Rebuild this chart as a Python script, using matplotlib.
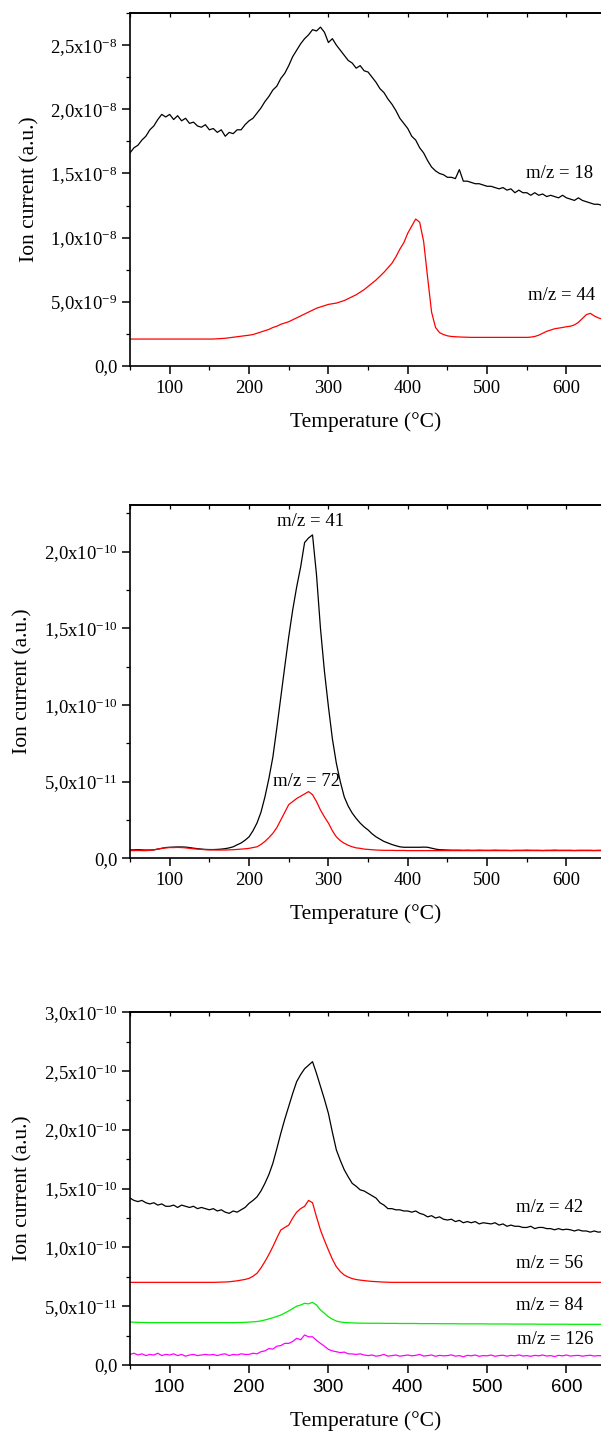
import numpy as np
import matplotlib
matplotlib.use("Agg")
import matplotlib.pyplot as plt
from matplotlib.ticker import FuncFormatter, MultipleLocator, AutoMinorLocator, NullFormatter

plt.rcParams['font.family'] = ['Liberation Serif', 'DejaVu Serif']
plt.rcParams['mathtext.fontset'] = 'custom'
plt.rcParams['mathtext.rm'] = 'Liberation Serif'
plt.rcParams['mathtext.it'] = 'Liberation Serif'

# Temperature grid (°C), 5 °C steps, 50..645
temperature = np.arange(50, 646, 5)

# ---- Panel 1 (units of 1e-8) ----
scale1 = 1e-8
mz18 = [
    1.66, 1.70, 1.72, 1.76, 1.79, 1.84, 1.87, 1.92, 1.96, 1.94,
    1.96, 1.92, 1.95, 1.91, 1.93, 1.89, 1.90, 1.87, 1.86, 1.88,
    1.84, 1.85, 1.82, 1.84, 1.79, 1.82, 1.81, 1.84, 1.84, 1.88,
    1.91, 1.93, 1.97, 2.01, 2.06, 2.10, 2.15, 2.18, 2.24, 2.28,
    2.34, 2.41, 2.46, 2.51, 2.55, 2.58, 2.62, 2.61, 2.64, 2.60,
    2.52, 2.55, 2.50, 2.46, 2.42, 2.38, 2.36, 2.32, 2.34, 2.30,
    2.29, 2.25, 2.21, 2.16, 2.13, 2.08, 2.04, 1.99, 1.93, 1.89,
    1.85, 1.79, 1.76, 1.70, 1.66, 1.60, 1.55, 1.52, 1.50, 1.49,
    1.47, 1.47, 1.46, 1.53, 1.44, 1.44, 1.43, 1.42, 1.42, 1.41,
    1.40, 1.40, 1.39, 1.38, 1.39, 1.37, 1.38, 1.35, 1.37, 1.35,
    1.35, 1.33, 1.35, 1.33, 1.34, 1.32, 1.33, 1.32, 1.31, 1.33,
    1.31, 1.30, 1.29, 1.31, 1.29, 1.28, 1.27, 1.26, 1.26, 1.25,
]
mz44 = [
    0.21, 0.21, 0.21, 0.21, 0.21, 0.21, 0.21, 0.21, 0.21, 0.21,
    0.21, 0.21, 0.21, 0.21, 0.21, 0.21, 0.21, 0.21, 0.21, 0.21,
    0.21, 0.21, 0.212, 0.214, 0.216, 0.22, 0.224, 0.228, 0.232, 0.236,
    0.24, 0.245, 0.255, 0.265, 0.275, 0.285, 0.30, 0.31, 0.325, 0.335,
    0.345, 0.36, 0.375, 0.39, 0.405, 0.42, 0.435, 0.45, 0.46, 0.47,
    0.48, 0.485, 0.49, 0.50, 0.51, 0.525, 0.54, 0.555, 0.575, 0.595,
    0.62, 0.645, 0.67, 0.70, 0.73, 0.765, 0.80, 0.85, 0.91, 0.96,
    1.035, 1.09, 1.145, 1.12, 0.97, 0.69, 0.42, 0.30, 0.26, 0.245,
    0.235, 0.23, 0.228, 0.226, 0.225, 0.224, 0.223, 0.223, 0.223, 0.223,
    0.223, 0.223, 0.223, 0.223, 0.223, 0.223, 0.223, 0.223, 0.223, 0.223,
    0.223, 0.225, 0.23, 0.24, 0.255, 0.27, 0.28, 0.29, 0.295, 0.30,
    0.306, 0.31, 0.32, 0.34, 0.37, 0.40, 0.41, 0.39, 0.375, 0.366,
]

# ---- Panel 2 (units of 1e-10) ----
scale2 = 1e-10
mz41 = [
    0.055, 0.055, 0.056, 0.055, 0.054, 0.054, 0.055, 0.060, 0.065, 0.070,
    0.072, 0.073, 0.074, 0.074, 0.073, 0.070, 0.066, 0.063, 0.060, 0.058,
    0.057, 0.057, 0.058, 0.060, 0.063, 0.068, 0.075, 0.088, 0.100, 0.118,
    0.14, 0.18, 0.23, 0.30, 0.40, 0.52, 0.66, 0.85, 1.05, 1.25,
    1.445, 1.62, 1.77, 1.90, 2.06, 2.09, 2.11, 1.85, 1.50, 1.22,
    0.99, 0.78, 0.62, 0.50, 0.40, 0.34, 0.295, 0.26, 0.23, 0.205,
    0.185, 0.16, 0.14, 0.125, 0.11, 0.10, 0.09, 0.082, 0.075, 0.072,
    0.072, 0.072, 0.072, 0.072, 0.073, 0.072, 0.066, 0.060, 0.056, 0.055,
    0.054, 0.053, 0.053, 0.053, 0.052, 0.053, 0.052, 0.052, 0.053, 0.052,
    0.052, 0.052, 0.053, 0.052, 0.052, 0.052, 0.051, 0.052, 0.052, 0.052,
    0.053, 0.052, 0.052, 0.052, 0.051, 0.052, 0.052, 0.053, 0.052, 0.052,
    0.052, 0.052, 0.051, 0.052, 0.052, 0.052, 0.052, 0.051, 0.052, 0.052,
]
mz72 = [
    0.050, 0.050, 0.051, 0.050, 0.050, 0.052, 0.055, 0.060, 0.065, 0.068,
    0.070, 0.070, 0.071, 0.070, 0.068, 0.065, 0.062, 0.060, 0.058, 0.056,
    0.055, 0.055, 0.054, 0.054, 0.054, 0.055, 0.056, 0.058, 0.060, 0.062,
    0.065, 0.070, 0.075, 0.090, 0.110, 0.135, 0.163, 0.200, 0.250, 0.300,
    0.35, 0.37, 0.39, 0.405, 0.42, 0.435, 0.415, 0.37, 0.315, 0.27,
    0.23, 0.18, 0.14, 0.115, 0.098, 0.085, 0.075, 0.068, 0.065, 0.060,
    0.058, 0.056, 0.054, 0.053, 0.052, 0.052, 0.052, 0.051, 0.051, 0.051,
    0.050, 0.050, 0.050, 0.050, 0.050, 0.050, 0.050, 0.050, 0.050, 0.050,
    0.050, 0.050, 0.050, 0.050, 0.050, 0.050, 0.050, 0.050, 0.050, 0.050,
    0.050, 0.050, 0.050, 0.050, 0.050, 0.050, 0.050, 0.050, 0.050, 0.050,
    0.050, 0.050, 0.050, 0.050, 0.050, 0.050, 0.050, 0.050, 0.050, 0.050,
    0.050, 0.050, 0.050, 0.050, 0.050, 0.050, 0.050, 0.050, 0.050, 0.050,
]

# ---- Panel 3 (units of 1e-10) ----
scale3 = 1e-10
mz42 = [
    1.42, 1.40, 1.39, 1.40, 1.38, 1.37, 1.38, 1.36, 1.37, 1.35,
    1.35, 1.36, 1.34, 1.36, 1.35, 1.34, 1.35, 1.33, 1.34, 1.33,
    1.32, 1.33, 1.31, 1.32, 1.30, 1.29, 1.31, 1.30, 1.32, 1.34,
    1.375, 1.40, 1.43, 1.48, 1.545, 1.62, 1.715, 1.84, 1.97, 2.09,
    2.20, 2.31, 2.41, 2.47, 2.52, 2.55, 2.58, 2.48, 2.37, 2.26,
    2.14, 1.98, 1.83, 1.74, 1.66, 1.60, 1.545, 1.52, 1.49, 1.48,
    1.46, 1.44, 1.42, 1.38, 1.36, 1.33, 1.33, 1.32, 1.32, 1.31,
    1.31, 1.30, 1.31, 1.29, 1.28, 1.26, 1.27, 1.25, 1.26, 1.24,
    1.233, 1.24, 1.22, 1.23, 1.21, 1.22, 1.21, 1.22, 1.20, 1.21,
    1.205, 1.20, 1.21, 1.19, 1.20, 1.18, 1.19, 1.18, 1.18, 1.17,
    1.17, 1.18, 1.16, 1.17, 1.17, 1.16, 1.16, 1.15, 1.16, 1.15,
    1.155, 1.15, 1.14, 1.15, 1.14, 1.14, 1.13, 1.14, 1.13, 1.134,
]
mz56 = [
    0.703, 0.703, 0.703, 0.703, 0.703, 0.703, 0.703, 0.703, 0.703, 0.703,
    0.703, 0.703, 0.703, 0.703, 0.703, 0.703, 0.703, 0.703, 0.703, 0.703,
    0.703, 0.703, 0.704, 0.705, 0.706, 0.708, 0.712, 0.716, 0.722, 0.728,
    0.737, 0.755, 0.78, 0.825, 0.88, 0.94, 1.006, 1.08, 1.148, 1.17,
    1.19, 1.25, 1.30, 1.33, 1.35, 1.40, 1.38, 1.26, 1.148, 1.06,
    0.978, 0.90, 0.836, 0.795, 0.765, 0.748, 0.735, 0.727, 0.722, 0.718,
    0.714, 0.711, 0.709, 0.707, 0.705, 0.704, 0.703, 0.703, 0.703, 0.703,
    0.703, 0.703, 0.703, 0.703, 0.703, 0.703, 0.703, 0.703, 0.703, 0.703,
    0.703, 0.703, 0.703, 0.703, 0.703, 0.703, 0.703, 0.703, 0.703, 0.703,
    0.703, 0.703, 0.703, 0.703, 0.703, 0.703, 0.703, 0.703, 0.703, 0.703,
    0.703, 0.703, 0.703, 0.703, 0.703, 0.703, 0.703, 0.703, 0.703, 0.703,
    0.703, 0.703, 0.703, 0.703, 0.703, 0.703, 0.703, 0.703, 0.703, 0.703,
]
mz84 = [
    0.365, 0.364, 0.363, 0.362, 0.361, 0.360, 0.360, 0.360, 0.360, 0.360,
    0.360, 0.360, 0.360, 0.360, 0.360, 0.360, 0.360, 0.360, 0.360, 0.360,
    0.360, 0.360, 0.360, 0.360, 0.360, 0.360, 0.360, 0.361, 0.362, 0.363,
    0.365, 0.367, 0.370, 0.375, 0.383, 0.392, 0.402, 0.413, 0.425, 0.442,
    0.46, 0.48, 0.50, 0.51, 0.525, 0.52, 0.533, 0.51, 0.468, 0.44,
    0.41, 0.39, 0.374, 0.366, 0.362, 0.360, 0.358, 0.357, 0.356, 0.356,
    0.355, 0.355, 0.355, 0.355, 0.354, 0.354, 0.354, 0.354, 0.353, 0.353,
    0.353, 0.353, 0.353, 0.352, 0.352, 0.352, 0.352, 0.352, 0.351, 0.351,
    0.351, 0.351, 0.351, 0.350, 0.350, 0.350, 0.350, 0.350, 0.350, 0.350,
    0.349, 0.349, 0.349, 0.349, 0.349, 0.349, 0.348, 0.348, 0.348, 0.348,
    0.348, 0.348, 0.348, 0.347, 0.347, 0.347, 0.347, 0.347, 0.347, 0.347,
    0.347, 0.346, 0.346, 0.346, 0.346, 0.346, 0.346, 0.346, 0.346, 0.346,
]
mz126 = [
    0.090, 0.100, 0.085, 0.095, 0.080, 0.090, 0.085, 0.100, 0.080, 0.090,
    0.085, 0.095, 0.080, 0.090, 0.075, 0.085, 0.090, 0.080, 0.085, 0.090,
    0.085, 0.090, 0.080, 0.090, 0.095, 0.080, 0.090, 0.085, 0.095, 0.090,
    0.090, 0.100, 0.095, 0.113, 0.120, 0.140, 0.135, 0.160, 0.165, 0.184,
    0.184, 0.200, 0.227, 0.215, 0.255, 0.240, 0.240, 0.210, 0.184, 0.160,
    0.133, 0.120, 0.113, 0.105, 0.110, 0.095, 0.094, 0.090, 0.095, 0.085,
    0.080, 0.085, 0.075, 0.080, 0.090, 0.075, 0.080, 0.085, 0.075, 0.080,
    0.085, 0.078, 0.082, 0.090, 0.076, 0.080, 0.085, 0.074, 0.082, 0.078,
    0.080, 0.086, 0.075, 0.080, 0.070, 0.082, 0.078, 0.085, 0.074, 0.080,
    0.078, 0.085, 0.074, 0.080, 0.083, 0.075, 0.082, 0.078, 0.086, 0.076,
    0.080, 0.074, 0.082, 0.078, 0.085, 0.076, 0.080, 0.072, 0.082, 0.078,
    0.085, 0.076, 0.080, 0.082, 0.075, 0.080, 0.083, 0.076, 0.080, 0.078,
]

xlabel = "Temperature (°C)"
ylabel = "Ion current (a.u.)"
x_min, x_max = 50, 645


def sci_comma(v, pos):
    if abs(v) < 1e-20:
        return "0,0"
    exp = int(np.floor(np.log10(abs(v)) + 1e-9))
    mant = v / 10 ** exp
    return "{:.1f}".format(mant).replace(".", ",") + "x10$^{" + str(exp) + "}$"


fig = plt.figure(figsize=(6.01, 14.31), dpi=100)
W, H = 601.0, 1431.0
left = 130 / W
width = 1.002 - left

panels = [
    dict(top=13, bottom=366, ymax=2.75e-8, ystep=5e-9, xfont='Liberation Serif',
         series=[(mz18, scale1, 'black'), (mz44, scale1, 'red')],
         labels=[("m/z = 18", 593, 173, 'right'), ("m/z = 44", 595, 296, 'right')]),
    dict(top=505, bottom=858.3, ymax=2.305e-10, ystep=5e-11, xfont='Liberation Serif',
         series=[(mz41, scale2, 'black'), (mz72, scale2, 'red')],
         labels=[("m/z = 41", 311, 522, 'center'), ("m/z = 72", 307, 781, 'center')]),
    dict(top=1012.3, bottom=1365, ymax=3.0e-10, ystep=5e-11, xfont='Liberation Sans',
         series=[(mz42, scale3, 'black'), (mz56, scale3, 'red'),
                 (mz84, scale3, '#00ee00'), (mz126, scale3, '#ff00ff')],
         labels=[("m/z = 42", 583, 1208, 'right'), ("m/z = 56", 583, 1264, 'right'),
                 ("m/z = 84", 583, 1305, 'right'), ("m/z = 126", 593, 1340, 'right')]),
]

for p in panels:
    ax = fig.add_axes([left, 1 - p['bottom'] / H, width, (p['bottom'] - p['top']) / H])
    for vals, sc, col in p['series']:
        ax.plot(temperature, np.array(vals) * sc, color=col, lw=0.9)
    ax.set_xlim(x_min, x_max)
    ax.set_ylim(0, p['ymax'])
    ax.xaxis.set_major_locator(MultipleLocator(100))
    ax.xaxis.set_minor_locator(MultipleLocator(50))
    ax.yaxis.set_major_locator(MultipleLocator(p['ystep']))
    ax.yaxis.set_minor_locator(AutoMinorLocator(2))
    ax.yaxis.set_major_formatter(FuncFormatter(sci_comma))
    ax.tick_params(axis='both', which='major', direction='out', length=6, width=1.1,
                   labelsize=13.5, pad=3)
    ax.tick_params(axis='both', which='minor', direction='out', length=3, width=0.9)
    ax.tick_params(axis='x', which='major', pad=4)
    for lab in ax.get_xticklabels():
        lab.set_family(p['xfont'])
    for s in ['left', 'bottom', 'top']:
        ax.spines[s].set_linewidth(1.2)
    ax.spines['right'].set_visible(False)
    ax.set_xlabel(xlabel, fontsize=15.5, labelpad=11)
    ax.set_ylabel(ylabel, fontsize=15.5, labelpad=8)

    top = ax.secondary_xaxis('top')
    top.xaxis.set_major_locator(MultipleLocator(50))
    top.xaxis.set_major_formatter(NullFormatter())
    top.tick_params(axis='x', which='major', direction='in', length=3, width=0.9)
    top.spines['top'].set_linewidth(1.2)

    for txt, xp, yp, ha in p['labels']:
        fig.text(xp / W, 1 - yp / H, txt, fontsize=13.5, ha=ha, va='center')

fig.savefig("out.png", dpi=100)
